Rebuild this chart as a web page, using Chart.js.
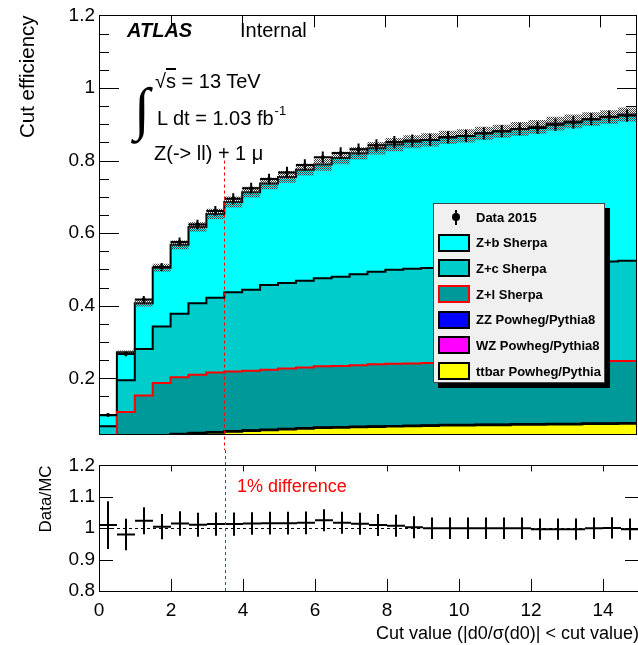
<!DOCTYPE html>
<html>
<head>
<meta charset="utf-8">
<title>Cut efficiency</title>
<script src="https://cdn.jsdelivr.net/npm/chart.js@4.4.1/dist/chart.umd.min.js"></script>
<style>
  html, body { margin: 0; padding: 0; background: #fff; overflow: hidden; }
  #page { position: relative; width: 638px; height: 645px; overflow: hidden; font-family: "Liberation Sans", Arial, sans-serif; color: #000; }
  #page canvas { position: absolute; left: 0; }
  .txt { position: absolute; white-space: nowrap; line-height: 1; }
  #legend { position: absolute; left: 433px; top: 203px; width: 170px; height: 178px; background: #f0f0f0; border: 1px solid #444; box-shadow: 5px 5px 0 #000; }
  #legend .row { position: absolute; left: 0; width: 100%; height: 20px; }
  #legend .sw { position: absolute; left: 4px; top: 1px; width: 28px; height: 14px; border: 2px solid #000; }
  #legend .lab { position: absolute; left: 42px; top: 3.5px; font-size: 13px; font-weight: bold; line-height: 1; white-space: nowrap; }
  #legend .dot { position: absolute; left: 18px; top: 6px; width: 8px; height: 8px; border-radius: 50%; background: #000; }
  #legend .bar { position: absolute; left: 21px; top: 2.5px; width: 2px; height: 15px; background: #000; }
</style>
</head>
<body>
<div id="page">
  <canvas id="effChart" width="640" height="450" style="top:0"></canvas>
  <canvas id="ratioChart" width="640" height="195" style="top:450px"></canvas>

  <div class="txt" style="left:127px;top:20px;font-size:20px;font-weight:bold;font-style:italic;">ATLAS</div>
  <div class="txt" style="left:240px;top:20px;font-size:20px;">Internal</div>
  <div class="txt" style="left:155px;top:71px;font-size:20px;">√<span style="text-decoration:overline">s</span> = 13 TeV</div>
  <div class="txt" style="left:134px;top:80px;font-size:58px;font-family:'Liberation Serif',serif;">∫</div>
  <div class="txt" style="left:157px;top:108px;font-size:20px;">L dt = 1.03 fb<span style="font-size:13px;position:relative;top:-10px;margin-left:1px;">-1</span></div>
  <div class="txt" style="left:154px;top:143px;font-size:20px;">Z(-&gt; ll) + 1 μ</div>
  <div class="txt" style="left:237px;top:477px;font-size:18px;color:#ff0000;">1% difference</div>

  <div id="legend"></div>
</div>

<script>
// bin edges of the cut value |d0/sigma(d0)|
const binEdges = [0, 0.5, 1, 1.5, 2, 2.5, 3, 3.5, 4, 4.5, 5, 5.5, 6, 6.5, 7, 7.5, 8, 8.5, 9, 9.5, 10, 10.5, 11, 11.5, 12, 12.5, 13, 13.5, 14, 14.5, 15];
const cutTicks = [0, 2, 4, 6, 8, 10, 12, 14];
const effTicks = [0.2, 0.4, 0.6, 0.8, 1.0, 1.2];
const ratioTicks = [0.8, 0.9, 1.0, 1.1, 1.2];
const cutValue = 3.5;

// MC samples, stacked from the bottom up
const ttbar = [0.020, 0.030, 0.038, 0.041, 0.045, 0.048, 0.050, 0.053, 0.055, 0.057, 0.059, 0.061, 0.063, 0.064, 0.065, 0.066, 0.067, 0.068, 0.069, 0.070, 0.070, 0.071, 0.071, 0.072, 0.072, 0.073, 0.073, 0.074, 0.074, 0.075];
const wz = [0.000, 0.000, 0.000, 0.001, 0.001, 0.001, 0.001, 0.001, 0.001, 0.001, 0.001, 0.001, 0.001, 0.001, 0.001, 0.001, 0.001, 0.001, 0.001, 0.001, 0.001, 0.001, 0.001, 0.001, 0.001, 0.001, 0.001, 0.001, 0.001, 0.001];
const zz = [0.000, 0.000, 0.000, 0.001, 0.001, 0.001, 0.001, 0.001, 0.001, 0.001, 0.001, 0.001, 0.001, 0.001, 0.001, 0.001, 0.001, 0.001, 0.001, 0.001, 0.001, 0.001, 0.001, 0.001, 0.001, 0.001, 0.001, 0.001, 0.001, 0.001];
const zLight = [0.010, 0.077, 0.115, 0.144, 0.156, 0.160, 0.164, 0.164, 0.164, 0.165, 0.166, 0.167, 0.168, 0.168, 0.169, 0.171, 0.171, 0.171, 0.171, 0.170, 0.171, 0.171, 0.171, 0.171, 0.171, 0.171, 0.171, 0.171, 0.172, 0.171];
const zCharm = [0.038, 0.088, 0.128, 0.156, 0.175, 0.197, 0.206, 0.218, 0.223, 0.233, 0.236, 0.239, 0.243, 0.246, 0.251, 0.255, 0.259, 0.261, 0.262, 0.264, 0.265, 0.266, 0.268, 0.269, 0.270, 0.271, 0.273, 0.273, 0.274, 0.276];
const zBottom = [0.030, 0.077, 0.126, 0.162, 0.190, 0.210, 0.231, 0.249, 0.269, 0.280, 0.292, 0.306, 0.313, 0.327, 0.333, 0.340, 0.345, 0.350, 0.353, 0.358, 0.360, 0.365, 0.369, 0.373, 0.378, 0.385, 0.389, 0.394, 0.398, 0.403];
const mcErr = [0.002, 0.005, 0.009, 0.011, 0.012, 0.013, 0.014, 0.015, 0.015, 0.016, 0.016, 0.016, 0.017, 0.017, 0.017, 0.017, 0.018, 0.018, 0.018, 0.018, 0.018, 0.018, 0.018, 0.019, 0.019, 0.019, 0.019, 0.019, 0.019, 0.019];

// data
const data2015 = [0.099, 0.267, 0.417, 0.507, 0.576, 0.624, 0.661, 0.695, 0.724, 0.749, 0.767, 0.788, 0.809, 0.821, 0.831, 0.842, 0.851, 0.855, 0.857, 0.864, 0.868, 0.875, 0.881, 0.887, 0.890, 0.899, 0.905, 0.914, 0.921, 0.924];
const dataErr = [0.004, 0.006, 0.010, 0.011, 0.012, 0.013, 0.014, 0.015, 0.015, 0.015, 0.016, 0.016, 0.016, 0.016, 0.016, 0.017, 0.017, 0.017, 0.017, 0.017, 0.017, 0.017, 0.017, 0.017, 0.017, 0.017, 0.017, 0.017, 0.017, 0.017];
const ratio = [1.010, 0.980, 1.024, 1.005, 1.015, 1.011, 1.013, 1.013, 1.015, 1.016, 1.016, 1.017, 1.025, 1.017, 1.014, 1.010, 1.008, 1.003, 1.000, 1.000, 1.000, 1.000, 1.000, 1.000, 0.997, 0.997, 0.997, 1.000, 1.001, 0.997];
const ratioErr = [0.076, 0.050, 0.043, 0.040, 0.039, 0.038, 0.037, 0.037, 0.036, 0.036, 0.036, 0.036, 0.035, 0.035, 0.035, 0.035, 0.035, 0.035, 0.034, 0.034, 0.034, 0.034, 0.034, 0.034, 0.034, 0.034, 0.034, 0.034, 0.034, 0.034];

const mcSamples = [
  {label: 'ttbar Powheg/Pythia', values: ttbar, fill: '#ffff00', line: '#000000'},
  {label: 'WZ Powheg/Pythia8', values: wz, fill: '#ff00ff', line: '#000000'},
  {label: 'ZZ Powheg/Pythia8', values: zz, fill: '#0000ff', line: '#000000'},
  {label: 'Z+l Sherpa', values: zLight, fill: '#009999', line: '#ff0000'},
  {label: 'Z+c Sherpa', values: zCharm, fill: '#00cccc', line: '#000000'},
  {label: 'Z+b Sherpa', values: zBottom, fill: '#00ffff', line: '#000000'}
];

const FONT = "'Liberation Sans', Arial, sans-serif";
Chart.defaults.font.family = FONT;
Chart.defaults.color = '#000';

// histogram as a step line: one point per left edge, plus the last right edge
const asSteps = vals => binEdges.map((x, i) => ({x, y: vals[Math.min(i, vals.length - 1)]}));
const centres = binEdges.slice(0, -1).map((e, i) => (e + binEdges[i + 1]) / 2);
const mcTotal = zBottom.map((v, i) => ttbar[i] + wz[i] + zz[i] + zLight[i] + zCharm[i] + v);

// checkered hatch for the MC uncertainty band
const tile = document.createElement('canvas');
tile.width = 2; tile.height = 2;
const tg = tile.getContext('2d');
tg.fillStyle = '#3c3c3c';
tg.fillRect(0, 0, 1, 1);
tg.fillRect(1, 1, 1, 1);
const hatch = document.getElementById('effChart').getContext('2d').createPattern(tile, 'repeat');

// ROOT-like frame: inward ticks, box, cut line, error crosses
const rootStyle = {
  id: 'rootStyle',
  beforeDatasetsDraw(chart, args, o) {
    const {ctx, chartArea: a, scales: {x, y}} = chart;
    ctx.save();
    ctx.strokeStyle = '#000';
    ctx.lineWidth = 1;
    ctx.beginPath();
    o.yTicks.forEach(t => {
      const py = Math.round(y.getPixelForValue(t.v)) + 0.5;
      ctx.moveTo(a.left, py); ctx.lineTo(a.left + t.l, py);
      ctx.moveTo(a.right, py); ctx.lineTo(a.right - t.r, py);
    });
    cutTicks.forEach(v => {
      const px = Math.round(x.getPixelForValue(v)) + 0.5;
      ctx.moveTo(px, a.bottom); ctx.lineTo(px, a.bottom - o.xBottom);
      ctx.moveTo(px, a.top); ctx.lineTo(px, a.top + o.xTop);
    });
    ctx.stroke();
    if (o.unity) {
      const py = Math.round(y.getPixelForValue(o.unity)) + 0.5;
      ctx.setLineDash([3, 3]);
      ctx.beginPath();
      ctx.moveTo(a.left, py); ctx.lineTo(a.right, py);
      ctx.stroke();
    }
    ctx.restore();
  },
  afterDatasetsDraw(chart, args, o) {
    const {ctx, chartArea: a, scales: {x, y}} = chart;
    ctx.save();
    chart.data.datasets.forEach(ds => {
      if (!ds.yErr) return;
      ctx.strokeStyle = '#000';
      ctx.lineWidth = 2;
      ctx.beginPath();
      ds.data.forEach((p, i) => {
        const px = x.getPixelForValue(p.x), py = y.getPixelForValue(p.y);
        ctx.moveTo(x.getPixelForValue(binEdges[i]), py);
        ctx.lineTo(x.getPixelForValue(binEdges[i + 1]), py);
        ctx.moveTo(px, y.getPixelForValue(p.y + ds.yErr[i]));
        ctx.lineTo(px, y.getPixelForValue(p.y - ds.yErr[i]));
      });
      ctx.stroke();
    });
    ctx.strokeStyle = '#000';
    ctx.lineWidth = 1;
    ctx.strokeRect(Math.round(a.left) + 0.5, Math.round(a.top) + 0.5, Math.round(a.right - a.left), Math.round(a.bottom - a.top));
    const cx = Math.round(x.getPixelForValue(cutValue)) + 0.5;
    ctx.strokeStyle = '#ff0000';
    ctx.setLineDash([3, 3]);
    ctx.beginPath();
    if (o.cutFrom != null) {
      ctx.moveTo(cx, y.getPixelForValue(o.cutFrom));
      ctx.lineTo(cx, chart.height);
    } else {
      ctx.moveTo(cx, 0);
      ctx.lineTo(cx, a.bottom);
    }
    ctx.stroke();
    ctx.restore();
  }
};

const tickFont = {family: FONT, size: 19};
const fmt = v => String(+v.toFixed(2));

// tick marks of the upper frame: majors and minors every 0.05
const effTickMarks = [];
for (let k = 1; k <= 24; k++) effTickMarks.push({v: k * 0.05, l: 10, r: 10});
effTicks.forEach(v => effTickMarks.push({v, l: 20, r: 19}));

new Chart(document.getElementById('effChart'), {
  type: 'line',
  data: {
    datasets: [
      ...mcSamples.map((s, i) => ({
        label: s.label,
        data: asSteps(s.values),
        stack: 'mc',
        stepped: 'before',
        fill: i === 0 ? 'origin' : '-1',
        backgroundColor: s.fill,
        borderColor: s.line,
        borderWidth: 2,
        pointRadius: 0
      })),
      {
        label: 'MC unc. low',
        data: asSteps(mcTotal.map((v, i) => v - mcErr[i])),
        stack: 'lo', stepped: 'before', fill: false,
        borderColor: 'rgba(0,0,0,0)', borderWidth: 1, pointRadius: 0, order: -1
      },
      {
        label: 'MC unc. high',
        data: asSteps(mcTotal.map((v, i) => v + mcErr[i])),
        stack: 'hi', stepped: 'before', fill: '-1',
        backgroundColor: hatch,
        borderColor: 'rgba(0,0,0,0)', borderWidth: 1, pointRadius: 0, order: -1
      },
      {
        label: 'Data 2015',
        data: centres.map((x, i) => ({x, y: data2015[i]})),
        stack: 'data', showLine: false,
        pointRadius: 2, pointBackgroundColor: '#000', pointBorderWidth: 0,
        yErr: dataErr, order: -2
      }
    ]
  },
  options: {
    responsive: false,
    devicePixelRatio: 1,
    animation: false,
    events: [],
    layout: {padding: {left: 0, right: 1, top: 14, bottom: 9}},
    scales: {
      x: {type: 'linear', min: 0, max: 15, display: false},
      y: {
        stacked: true,
        min: 0.045,
        max: 1.2,
        afterFit: s => { s.width = 99; },
        afterBuildTicks: s => { s.ticks = effTicks.map(value => ({value})); },
        ticks: {font: tickFont, color: '#000', padding: 4, callback: fmt},
        grid: {display: false, drawTicks: false},
        border: {display: false},
        title: {display: true, text: 'Cut efficiency', align: 'end', color: '#000', font: {family: FONT, size: 20.5}, padding: {top: 16, bottom: 0}}
      }
    },
    plugins: {
      legend: {display: false},
      tooltip: {enabled: false},
      rootStyle: {yTicks: effTickMarks, xTop: 12, xBottom: 12, cutFrom: 0.8}
    }
  },
  plugins: [rootStyle]
});

new Chart(document.getElementById('ratioChart'), {
  type: 'line',
  data: {
    datasets: [{
      label: 'Data/MC',
      data: centres.map((x, i) => ({x, y: ratio[i]})),
      showLine: false,
      pointRadius: 0,
      yErr: ratioErr
    }]
  },
  options: {
    responsive: false,
    devicePixelRatio: 1,
    animation: false,
    events: [],
    layout: {padding: {left: 0, right: 1, top: 8, bottom: 0}},
    scales: {
      x: {
        type: 'linear', min: 0, max: 15,
        afterFit: s => { s.height = 54; },
        afterBuildTicks: s => { s.ticks = cutTicks.map(value => ({value})); },
        ticks: {font: tickFont, color: '#000', padding: 8, maxRotation: 0, autoSkip: false, callback: fmt},
        grid: {display: false, drawTicks: false},
        border: {display: false},
        title: {display: true, text: 'Cut value (|d0/σ(d0)| < cut value)', align: 'end', color: '#000', font: {family: FONT, size: 18}, padding: {top: 0, bottom: 0}}
      },
      y: {
        min: 0.8,
        max: 1.2,
        afterFit: s => { s.width = 99; },
        afterBuildTicks: s => { s.ticks = ratioTicks.map(value => ({value})); },
        ticks: {font: tickFont, color: '#000', padding: 4, callback: fmt},
        grid: {display: false, drawTicks: false},
        border: {display: false},
        title: {display: true, text: 'Data/MC', align: 'end', color: '#000', font: {family: FONT, size: 17}, padding: {top: 36, bottom: 0}}
      }
    },
    plugins: {
      legend: {display: false},
      tooltip: {enabled: false},
      rootStyle: {yTicks: ratioTicks.map(v => ({v, l: 14, r: 14})), xTop: 6, xBottom: 12, unity: 1}
    }
  },
  plugins: [rootStyle]
});

// legend box, data first then the MC samples top-down
const legend = document.getElementById('legend');
const legendRows = [{label: 'Data 2015', marker: true}].concat(mcSamples.slice().reverse());
legendRows.forEach((r, i) => {
  const row = document.createElement('div');
  row.className = 'row';
  row.style.top = (3 + i * 25.67) + 'px';
  if (r.marker) {
    row.innerHTML = '<div class="bar"></div><div class="dot"></div>';
  } else {
    const sw = document.createElement('div');
    sw.className = 'sw';
    sw.style.background = r.fill;
    sw.style.borderColor = r.line;
    row.appendChild(sw);
  }
  const lab = document.createElement('div');
  lab.className = 'lab';
  lab.textContent = r.label;
  row.appendChild(lab);
  legend.appendChild(row);
});
</script>
</body>
</html>
